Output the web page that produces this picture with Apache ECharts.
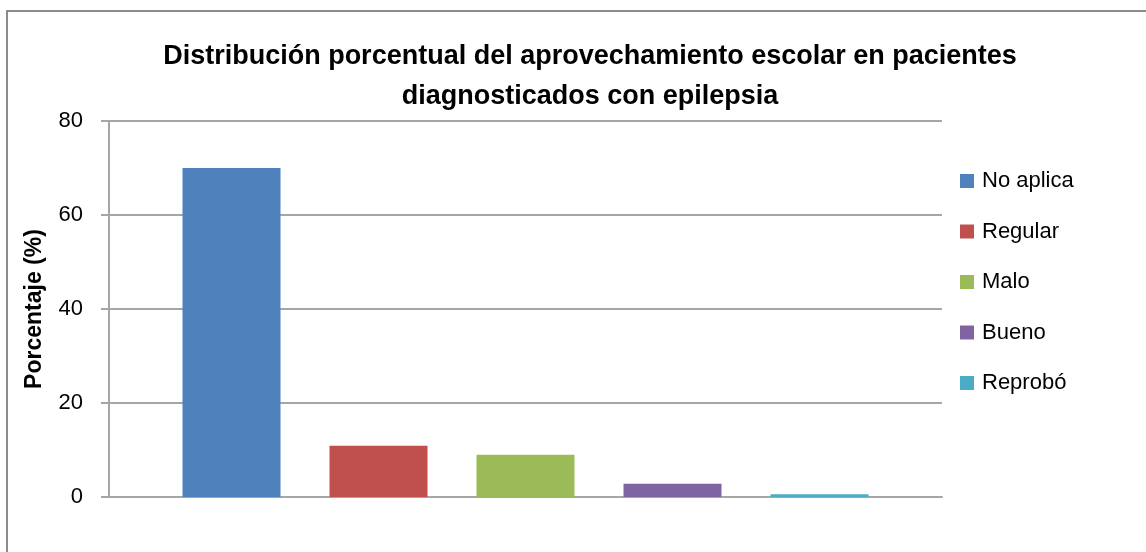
<!DOCTYPE html>
<html lang="es">
<head>
    <meta charset="UTF-8">
    <title>Aprovechamiento escolar</title>
    <style>
        body { margin: 0; background: #fff; }
        #main { width: 1146px; height: 552px; }
    </style>
</head>
<body>
    <div id="main"></div>
    <script src="https://cdn.jsdelivr.net/npm/echarts@6/dist/echarts.min.js"></script>
    <script>
        // datos
        const categorias = ['No aplica', 'Regular', 'Malo', 'Bueno', 'Reprobó'];
        const porcentajes = [70, 10.9, 9, 2.8, 0.6];
        const colores = ['#4F81BD', '#C0504D', '#9BBB59', '#8064A2', '#4BACC6'];
        const ticksY = [0, 20, 40, 60, 80];

        const fuente = '"Liberation Sans", Arial, sans-serif';
        const myChart = echarts.init(document.getElementById('main'));

        // una serie por categoría, todas en un único grupo del eje x
        const series = categorias.map((nombre, i) => ({
            name: nombre,
            type: 'bar',
            barWidth: 98,
            barGap: '50%',
            itemStyle: { color: colores[i] },
            data: [porcentajes[i]]
        }));

        const option = {
            animation: false,
            textStyle: { fontFamily: fuente },
            graphic: [{
                type: 'rect',
                shape: { x: 7, y: 11, width: 1300, height: 700 },
                style: { fill: 'none', stroke: '#8c8c8c', lineWidth: 2 }
            }],
            title: {
                text: 'Distribución porcentual del aprovechamiento escolar en pacientes\ndiagnosticados con epilepsia',
                left: 585,
                top: 32,
                textAlign: 'center',
                textStyle: {
                    fontFamily: fuente,
                    fontSize: 27,
                    fontWeight: 'bold',
                    color: '#000',
                    lineHeight: 40
                }
            },
            legend: {
                orient: 'vertical',
                left: 955,
                top: 165,
                itemWidth: 14,
                itemHeight: 14,
                itemGap: 28.5,
                icon: 'rect',
                data: categorias,
                textStyle: { fontFamily: fuente, fontSize: 22, color: '#000', padding: [0, 0, 0, 3] }
            },
            grid: { left: 109, right: 204, top: 121, bottom: 55 },
            xAxis: {
                type: 'category',
                data: [''],
                axisTick: { show: false },
                axisLabel: { show: false },
                axisLine: { lineStyle: { color: '#a6a6a6', width: 2 } }
            },
            yAxis: {
                type: 'value',
                min: ticksY[0],
                max: ticksY[ticksY.length - 1],
                interval: 20,
                name: 'Porcentaje (%)',
                nameLocation: 'middle',
                nameGap: 63,
                nameTextStyle: { fontFamily: fuente, fontSize: 23, fontWeight: 'bold', color: '#000' },
                axisLine: { show: true, lineStyle: { color: '#a6a6a6', width: 2 } },
                axisTick: { show: true, length: 8, lineStyle: { color: '#a6a6a6', width: 2 } },
                axisLabel: { margin: 26, fontFamily: fuente, fontSize: 22, color: '#000' },
                splitLine: { lineStyle: { color: '#a6a6a6', width: 2 } }
            },
            series: series
        };

        myChart.setOption(option);
    </script>
</body>
</html>
